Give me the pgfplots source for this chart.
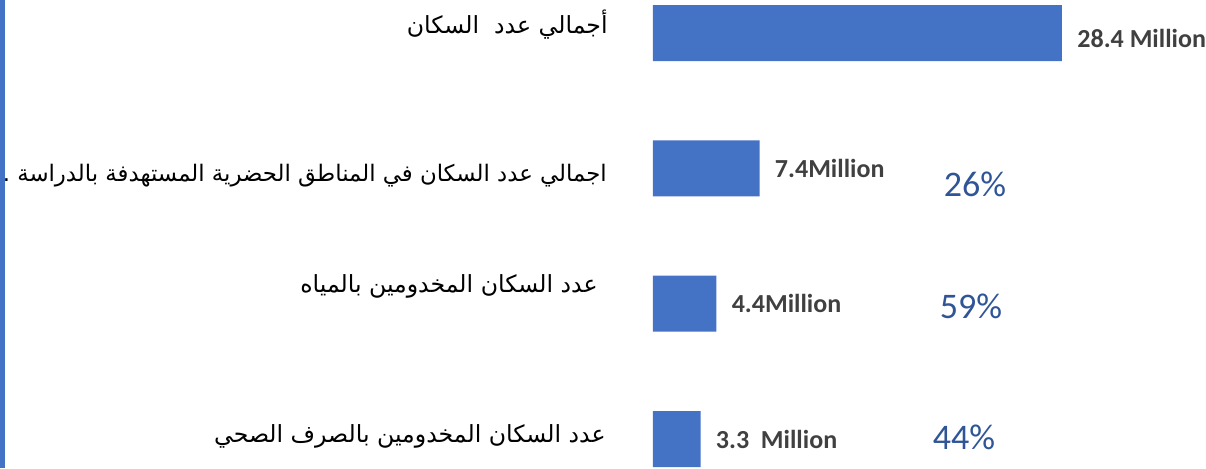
\documentclass[border=0pt]{standalone}
\usepackage{pgfplots}
\pgfplotsset{compat=1.18}
\usepackage{fontspec}
\setmainfont{Carlito}
\newfontfamily\arabicfont[Script=Arabic]{DejaVu Sans}
\TeXXeTstate=1
\definecolor{barblue}{HTML}{4472C4}
\definecolor{valgray}{HTML}{404040}
\definecolor{pctblue}{HTML}{2F5597}
\begin{document}
\begin{tikzpicture}
\begin{axis}[name=ax, scale only axis, width=603pt, height=234pt, hide axis,
  xmin=-45.34, xmax=38.40, ymin=-0.244, ymax=3.214, y dir=reverse, clip=false,
  xbar, bar width=0.414]
\addplot[fill=barblue, draw=none, nodes near coords, point meta=explicit symbolic,
  nodes near coords style={anchor=west, inner sep=0pt, xshift=7.5pt, font=\bfseries\fontsize{13}{15}\selectfont, text=valgray},
  coordinate style/.condition={x>20}{yshift=-2.5pt}]
  coordinates {(28.4,0) [28.4 Million] (7.4,1) [7.4Million] (4.4,2) [4.4Million] (3.3,3) [3.3\ \ Million]};
\node[anchor=east, inner sep=0pt, font=\arabicfont\fontsize{11.8}{14}\selectfont] at (axis cs:-3.125,-0.06) {\beginR أجمالي عدد\ \ السكان\endR};
\node[anchor=east, inner sep=0pt, font=\arabicfont\fontsize{11.4}{14}\selectfont] at (axis cs:-3.19,1.057) {\beginR اجمالي عدد السكان في المناطق الحضرية المستهدفة بالدراسة .\endR};
\node[anchor=east, inner sep=0pt, font=\arabicfont\fontsize{11.8}{14}\selectfont] at (axis cs:-3.82,1.875) {\beginR عدد السكان المخدومين بالمياه\endR};
\node[anchor=east, inner sep=0pt, font=\arabicfont\fontsize{11.8}{14}\selectfont] at (axis cs:-3.26,2.979) {\beginR عدد السكان المخدومين بالصرف الصحي\endR};
\node[inner sep=0pt, text=pctblue, font=\fontsize{18}{20}\selectfont] at (axis cs:22.36,1.116) {26\%};
\node[inner sep=0pt, text=pctblue, font=\fontsize{18}{20}\selectfont] at (axis cs:22.08,2.018) {59\%};
\node[inner sep=0pt, text=pctblue, font=\fontsize{18}{20}\selectfont] at (axis cs:21.6,2.986) {44\%};
\fill[barblue] (rel axis cs:0,0) rectangle (rel axis cs:0.004,1);
\end{axis}
\pgfresetboundingbox
\useasboundingbox (ax.south west) rectangle (ax.north east);
\end{tikzpicture}
\end{document}
